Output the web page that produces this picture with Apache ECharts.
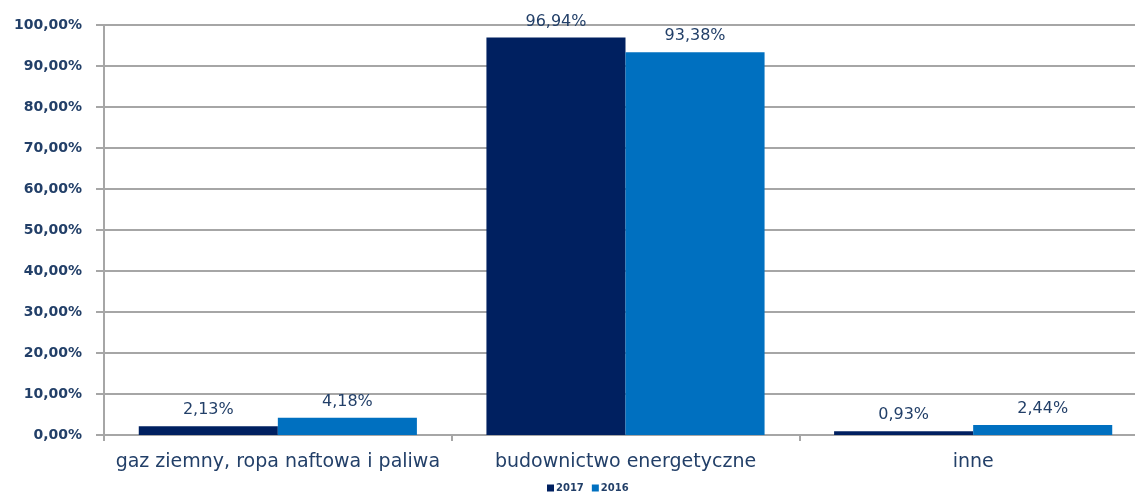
<!DOCTYPE html>
<html>
<head>
<meta charset="utf-8">
<script src="https://cdn.jsdelivr.net/npm/echarts@6/dist/echarts.min.js"></script>
<style>
html,body{margin:0;padding:0;background:#fff;overflow:hidden;}
#chart{width:1147px;height:498px;}
</style>
</head>
<body>
<div id="chart"></div>
<script>
const categories = ['gaz ziemny, ropa naftowa i paliwa', 'budownictwo energetyczne', 'inne'];
const values2017 = [2.13, 96.94, 0.93];
const values2016 = [4.18, 93.38, 2.44];
const seriesNames = ['2017', '2016'];

const textColor = '#223F68';
const fontFamily = '"DejaVu Sans", sans-serif';
const fmt = v => v.toFixed(2).replace('.', ',') + '%';

const chart = echarts.init(document.getElementById('chart'));
const labelStyle = {
  show: true,
  position: 'top',
  distance: 8,
  color: textColor,
  fontSize: 16,
  fontFamily: fontFamily,
  formatter: p => fmt(p.value)
};
chart.setOption({
  animation: false,
  textStyle: { fontFamily: fontFamily },
  grid: { left: 104, right: 0, top: 25, bottom: 63 },
  legend: {
    bottom: 0,
    left: 542,
    itemWidth: 7,
    itemHeight: 7,
    itemGap: 8,
    icon: 'rect',
    textStyle: { color: textColor, fontSize: 10, fontWeight: 'bold', padding: [0, 0, 0, -3] },
    data: seriesNames
  },
  xAxis: {
    type: 'category',
    data: categories,
    axisLine: { lineStyle: { color: '#A6A6A6', width: 2 } },
    axisTick: { show: true, length: 6, lineStyle: { color: '#A6A6A6', width: 2 } },
    axisLabel: { color: textColor, fontSize: 19, margin: 18, interval: 0 }
  },
  yAxis: {
    type: 'value',
    min: 0,
    max: 100,
    interval: 10,
    axisLine: { show: true, lineStyle: { color: '#A6A6A6', width: 2 } },
    axisTick: { show: true, length: 8, lineStyle: { color: '#A6A6A6', width: 2 } },
    splitLine: { lineStyle: { color: '#A6A6A6', width: 2 } },
    axisLabel: { color: textColor, fontSize: 14, fontWeight: 'bold', margin: 22, formatter: v => fmt(v) }
  },
  series: [
    {
      name: seriesNames[0],
      type: 'bar',
      data: values2017,
      barGap: '0%',
      barCategoryGap: '20%',
      itemStyle: { color: '#002060' },
      label: labelStyle
    },
    {
      name: seriesNames[1],
      type: 'bar',
      data: values2016,
      itemStyle: { color: '#0070C0' },
      label: labelStyle
    }
  ]
});
</script>
</body>
</html>
